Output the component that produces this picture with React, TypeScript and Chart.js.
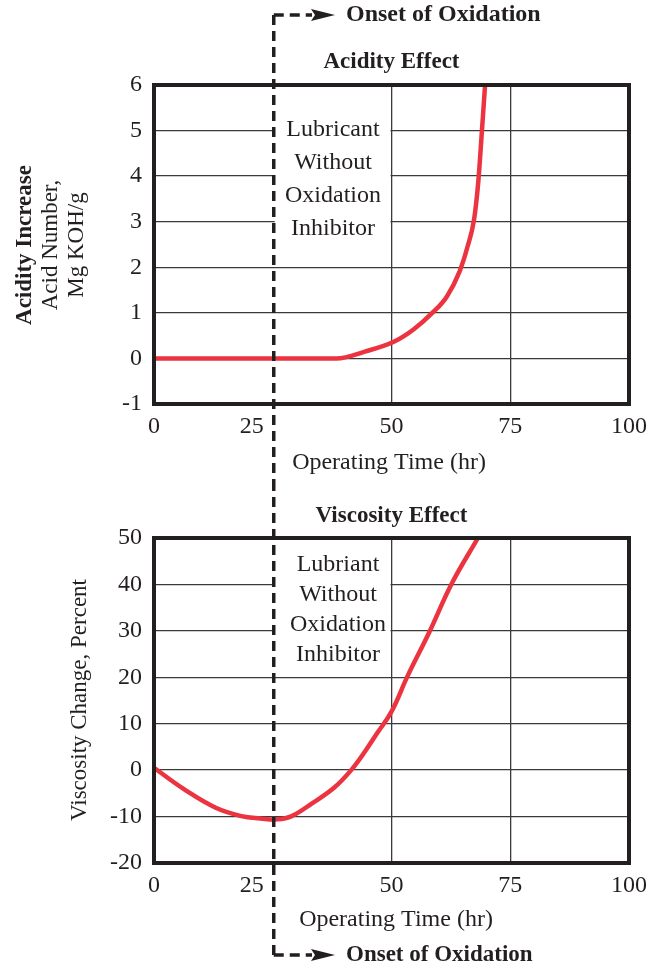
import React, { useEffect, useRef } from 'react';
import { Chart, registerables } from 'chart.js';

Chart.register(...registerables);

const FONT = '"Liberation Serif", "Times New Roman", serif';
const INK = '#231f20';
const GRID = '#3a3a3a';
const RED = '#ec3340';

// ---- data ----
const xTickValues = [0, 25, 50, 75, 100];
const ONSET_HR = 25;

const acidTicks = [-1, 0, 1, 2, 3, 4, 5, 6];
const acidTime = [0, 20, 38.4, 44.4, 50.6, 54.7, 58.8, 61.6, 64.3, 66.0, 67.4, 68.3, 69.0, 69.7];
const acidNumber = [0, 0, 0, 0.15, 0.37, 0.64, 1.02, 1.35, 1.9, 2.45, 3.06, 3.91, 4.94, 6.0];

const viscTicks = [-20, -10, 0, 10, 20, 30, 40, 50];
const viscTime = [0, 6.3, 13, 18.4, 22.4, 26, 29, 33.2, 37.9, 41.5, 44.6, 47, 50, 53.4, 57.9, 62.8, 68.2];
const viscChange = [0.5, -4.1, -8.1, -9.9, -10.4, -10.6, -9.9, -7.2, -3.8, 0, 4.3, 8.0, 12.6, 20.3, 29.6, 40.4, 50];

const noteTop = ['Lubricant', 'Without', 'Oxidation', 'Inhibitor'];
const noteBottom = ['Lubriant', 'Without', 'Oxidation', 'Inhibitor'];
const onsetLabel = 'Onset of Oxidation';
const xAxisTitle = 'Operating Time (hr)';

type YTitle = { text: string; bold?: boolean; x: number };
type Spec = {
  xs: number[];
  ys: number[];
  yTicks: number[];
  monotone: boolean;
  top: number;
  bottomSpace: number;
  title: string;
  titleY: number;
  xTitleX: number;
  xTitleY: number;
  yTitles: YTitle[];
  yTitleCy: number;
  note: string[];
  noteBottomValue: number;
  noteCx: number;
  noteFirstY: number;
  noteGap: number;
  onsetCornerY: number;
  onsetDown: boolean;
  onsetFontSize: number;
};

const topSpec: Spec = {
  xs: acidTime,
  ys: acidNumber,
  yTicks: acidTicks,
  monotone: true,
  top: 85,
  bottomSpace: 80,
  title: 'Acidity Effect',
  titleY: 62,
  xTitleX: 389,
  xTitleY: 463,
  yTitles: [
    { text: 'Acidity Increase', bold: true, x: 25 },
    { text: 'Acid Number,', x: 51 },
    { text: 'Mg KOH/g', x: 77 },
  ],
  yTitleCy: 245,
  note: noteTop,
  noteBottomValue: 2.4,
  noteCx: 333,
  noteFirstY: 130,
  noteGap: 33,
  onsetCornerY: 15,
  onsetDown: true,
  onsetFontSize: 24,
};

const bottomSpec: Spec = {
  xs: viscTime,
  ys: viscChange,
  yTicks: viscTicks,
  monotone: false,
  top: 54,
  bottomSpace: 105,
  title: 'Viscosity Effect',
  titleY: 32,
  xTitleX: 396,
  xTitleY: 436,
  yTitles: [{ text: 'Viscosity Change, Percent', x: 80 }],
  yTitleCy: 216,
  note: noteBottom,
  noteBottomValue: 22,
  noteCx: 338,
  noteFirstY: 81,
  noteGap: 30,
  onsetCornerY: 471,
  onsetDown: false,
  onsetFontSize: 23,
};

function makePanel(canvas: HTMLCanvasElement, spec: Spec) {
  const yMin = spec.yTicks[0];
  const yMax = spec.yTicks[spec.yTicks.length - 1];

  const decor = {
    id: 'decor',
    beforeDatasetsDraw(chart: any) {
      const { ctx, chartArea, scales } = chart;
      const x1 = scales.x.getPixelForValue(ONSET_HR) + 2;
      const x2 = scales.x.getPixelForValue(50) - 1;
      const yb = scales.y.getPixelForValue(spec.noteBottomValue);
      ctx.save();
      ctx.fillStyle = '#ffffff';
      ctx.fillRect(x1, chartArea.top, x2 - x1, yb - chartArea.top);
      ctx.fillStyle = INK;
      ctx.font = `24px ${FONT}`;
      ctx.textAlign = 'center';
      ctx.textBaseline = 'middle';
      spec.note.forEach((line, i) => {
        ctx.fillText(line, spec.noteCx, spec.noteFirstY + i * spec.noteGap);
      });
      ctx.restore();
    },
    afterDatasetsDraw(chart: any) {
      const { ctx, chartArea } = chart;
      ctx.save();
      ctx.strokeStyle = INK;
      ctx.lineWidth = 4;
      ctx.strokeRect(chartArea.left, chartArea.top, chartArea.right - chartArea.left, chartArea.bottom - chartArea.top);
      ctx.restore();
    },
    afterDraw(chart: any) {
      const { ctx, scales } = chart;
      const H = chart.height;
      ctx.save();
      ctx.fillStyle = INK;
      ctx.font = `bold 23px ${FONT}`;
      ctx.textAlign = 'center';
      ctx.textBaseline = 'middle';
      ctx.fillText(spec.title, (chart.chartArea.left + chart.chartArea.right) / 2, spec.titleY);
      ctx.font = `24px ${FONT}`;
      ctx.fillText(xAxisTitle, spec.xTitleX, spec.xTitleY);
      spec.yTitles.forEach((t) => {
        ctx.save();
        ctx.translate(t.x, spec.yTitleCy);
        ctx.rotate(-Math.PI / 2);
        ctx.font = `${t.bold ? 'bold ' : ''}23px ${FONT}`;
        ctx.fillText(t.text, 0, 0);
        ctx.restore();
      });
      const x0 = scales.x.getPixelForValue(ONSET_HR) + 1;
      const cy = spec.onsetCornerY;
      ctx.strokeStyle = INK;
      ctx.lineWidth = 3.5;
      ctx.setLineDash([10, 6]);
      ctx.beginPath();
      ctx.moveTo(x0, cy);
      ctx.lineTo(x0, spec.onsetDown ? H : 0);
      ctx.stroke();
      ctx.beginPath();
      ctx.moveTo(x0, cy);
      ctx.lineTo(312, cy);
      ctx.stroke();
      ctx.setLineDash([]);
      ctx.beginPath();
      ctx.moveTo(311, cy - 6);
      ctx.lineTo(335, cy);
      ctx.lineTo(311, cy + 6);
      ctx.lineTo(315, cy);
      ctx.closePath();
      ctx.fill();
      ctx.font = `bold ${spec.onsetFontSize}px ${FONT}`;
      ctx.textAlign = 'left';
      ctx.fillText(onsetLabel, 346, cy);
      ctx.restore();
    },
  };

  return new Chart(canvas, {
    type: 'line',
    data: {
      datasets: [
        {
          data: spec.xs.map((x, i) => ({ x, y: spec.ys[i] })),
          borderColor: RED,
          borderWidth: 4.5,
          pointRadius: 0,
          fill: false,
          tension: 0.4,
          cubicInterpolationMode: spec.monotone ? 'monotone' : 'default',
          borderCapStyle: 'round',
          borderJoinStyle: 'round',
        },
      ],
    },
    options: {
      responsive: false,
      animation: false,
      devicePixelRatio: 1,
      events: [],
      layout: { padding: { top: spec.top, right: 32, bottom: 0, left: 0 } },
      plugins: { legend: { display: false }, tooltip: { enabled: false }, title: { display: false } },
      scales: {
        x: {
          type: 'linear',
          min: 0,
          max: 100,
          afterBuildTicks: (s: any) => {
            s.ticks = xTickValues.map((v) => ({ value: v }));
          },
          afterFit: (s: any) => {
            s.height = spec.bottomSpace;
          },
          ticks: {
            autoSkip: false,
            maxRotation: 0,
            padding: 8,
            color: INK,
            font: { family: FONT, size: 24 },
            callback: (v: any) => (v === ONSET_HR ? `${v}` + '       ' : `${v}`),
          },
          grid: {
            drawTicks: false,
            lineWidth: 1.3,
            color: (c: any) => (c.tick && (c.tick.value === 50 || c.tick.value === 75) ? GRID : 'rgba(0,0,0,0)'),
          },
          border: { display: false },
        },
        y: {
          type: 'linear',
          min: yMin,
          max: yMax,
          afterBuildTicks: (s: any) => {
            s.ticks = spec.yTicks.map((v) => ({ value: v }));
          },
          afterFit: (s: any) => {
            s.width = 154;
          },
          ticks: {
            padding: 12,
            color: INK,
            font: { family: FONT, size: 24 },
          },
          grid: {
            drawTicks: false,
            lineWidth: 1.3,
            color: (c: any) =>
              c.tick && (c.tick.value === yMin || c.tick.value === yMax) ? 'rgba(0,0,0,0)' : GRID,
          },
          border: { display: false },
        },
      },
    },
    plugins: [decor],
  } as any);
}

export default function App() {
  const topRef = useRef<HTMLCanvasElement>(null);
  const botRef = useRef<HTMLCanvasElement>(null);

  useEffect(() => {
    const c1 = makePanel(topRef.current as HTMLCanvasElement, topSpec);
    const c2 = makePanel(botRef.current as HTMLCanvasElement, bottomSpec);
    return () => {
      c1.destroy();
      c2.destroy();
    };
  }, []);

  return (
    <div style={{ position: 'absolute', left: 0, top: 0, width: 661, height: 968, background: '#ffffff' }}>
      <canvas
        ref={topRef}
        width={661}
        height={484}
        style={{ display: 'block', position: 'absolute', left: 0, top: 0, width: 661, height: 484 }}
      />
      <canvas
        ref={botRef}
        width={661}
        height={484}
        style={{ display: 'block', position: 'absolute', left: 0, top: 484, width: 661, height: 484 }}
      />
    </div>
  );
}
